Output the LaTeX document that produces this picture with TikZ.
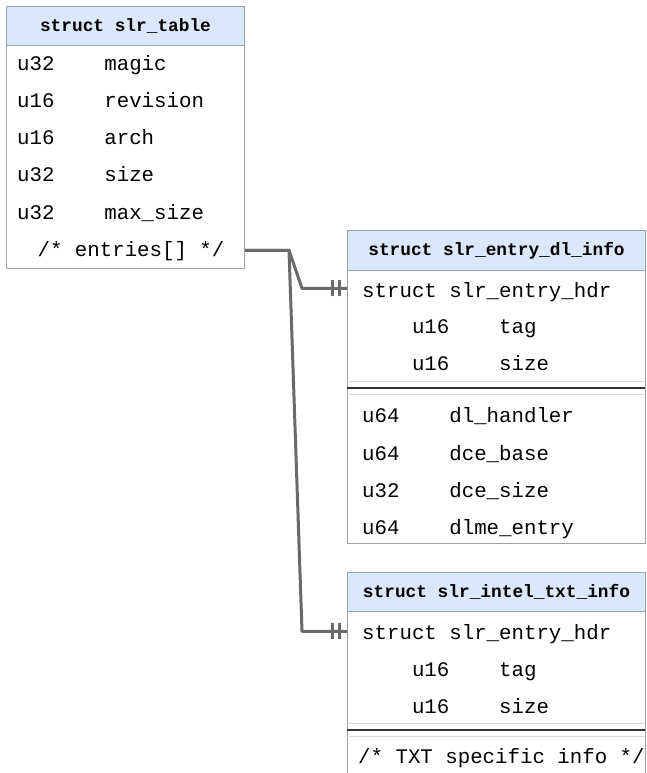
\documentclass[tikz,border=0pt]{standalone}
\usepackage{fontspec}
\setmonofont{Liberation Mono}
\definecolor{hdrfill}{HTML}{DAE8FC}
\definecolor{boxline}{HTML}{9AA2AC}
\definecolor{rowline}{HTML}{D8DCE0}
\definecolor{sepline}{HTML}{333333}
\definecolor{connline}{HTML}{6A6A6A}
\tikzset{
  tbox/.style={draw=boxline, line width=1pt, fill=white, anchor=north west, inner sep=0pt},
  thead/.style={draw=boxline, line width=1pt, fill=hdrfill, anchor=north west, inner sep=0pt},
  htext/.style={font=\fontsize{17.8}{20}\selectfont\ttfamily\bfseries, inner sep=0pt},
  rtext/.style={font=\fontsize{20.75}{24}\selectfont\ttfamily, inner sep=0pt, anchor=mid west, yshift=-4.5pt},
  rowsep/.style={draw=rowline, line width=1pt},
  groupsep/.style={draw=sepline, line width=2pt},
  conn/.style={draw=connline, line width=3pt, line join=round},
  bar/.style={draw=connline, line width=3pt},
}
\newcommand{\mandone}[1]{%
  \draw[bar] ([xshift=-15pt,yshift=-8pt]#1) -- ([xshift=-15pt,yshift=8pt]#1);
  \draw[bar] ([xshift=-8pt,yshift=-8pt]#1) -- ([xshift=-8pt,yshift=8pt]#1);}
\begin{document}
\begin{tikzpicture}[x=1pt,y=-1pt]
\useasboundingbox (0,0) rectangle (646,773);

% --- struct slr_table ---
\node[tbox, minimum width=238pt, minimum height=262pt] (b1) at (6,6) {};
\node[thead, minimum width=238pt, minimum height=39pt] (b1h) at (6,6) {};
\node[htext] (b1t) at (b1h.center) {struct slr\_table};
\node[rtext] (r1a) at (17,64)  {u32\ \ \ \ magic};
\node[rtext] (r1b) at (17,101) {u16\ \ \ \ revision};
\node[rtext] (r1c) at (17,138) {u16\ \ \ \ arch};
\node[rtext] (r1d) at (17,175) {u32\ \ \ \ size};
\node[rtext] (r1e) at (17,213) {u32\ \ \ \ max\_size};
\node[rtext, anchor=mid] (r1f) at (131,250) {/*\ entries[]\ */};

% --- struct slr_entry_dl_info ---
\node[tbox, minimum width=298pt, minimum height=313pt] (b2) at (347,230) {};
\node[thead, minimum width=298pt, minimum height=40pt] (b2h) at (347,230) {};
\node[htext] (b2t) at (b2h.center) {struct slr\_entry\_dl\_info};
\node[rtext] (r2a) at (362,291) {struct\ slr\_entry\_hdr};
\node[rtext] (r2b) at (362,327) {\ \ \ \ u16\ \ \ \ tag};
\node[rtext] (r2c) at (362,364) {\ \ \ \ u16\ \ \ \ size};
\draw[rowsep] (347,381) -- (645,381);
\draw[rowsep] (347,394) -- (645,394);
\draw[groupsep] (347,388) -- (645,388);
\node[rtext] (r2d) at (362,416) {u64\ \ \ \ dl\_handler};
\node[rtext] (r2e) at (362,454) {u64\ \ \ \ dce\_base};
\node[rtext] (r2f) at (362,491) {u32\ \ \ \ dce\_size};
\node[rtext] (r2g) at (362,528) {u64\ \ \ \ dlme\_entry};

% --- struct slr_intel_txt_info (runs past the lower edge) ---
\node[tbox, minimum width=298pt, minimum height=240pt] (b3) at (347,572) {};
\node[thead, minimum width=298pt, minimum height=39pt] (b3h) at (347,572) {};
\node[htext] (b3t) at (b3h.center) {struct slr\_intel\_txt\_info};
\node[rtext] (r3a) at (362,633) {struct\ slr\_entry\_hdr};
\node[rtext] (r3b) at (362,670) {\ \ \ \ u16\ \ \ \ tag};
\node[rtext] (r3c) at (362,707) {\ \ \ \ u16\ \ \ \ size};
\draw[rowsep] (347,723) -- (645,723);
\draw[rowsep] (347,736) -- (645,736);
\draw[groupsep] (347,730) -- (645,730);
\node[rtext] (r3d) at (358,757) {/*\ TXT\ specific\ info\ */};

% --- relations ---
\coordinate (src) at ([yshift=1pt]b1.east |- r1f.center);
\coordinate (jn) at ([xshift=44pt]src);
\coordinate (t2) at ([yshift=4pt]b2.west |- r2a.center);
\coordinate (t3) at ([yshift=3pt]b3.west |- r3a.center);
\draw[conn] (src) -- (jn) -- ([xshift=-45pt]t2) -- (t2);
\draw[conn] (src) -- (jn) -- ([xshift=-45pt]t3) -- (t3);
\mandone{t2}
\mandone{t3}
\end{tikzpicture}
\end{document}
